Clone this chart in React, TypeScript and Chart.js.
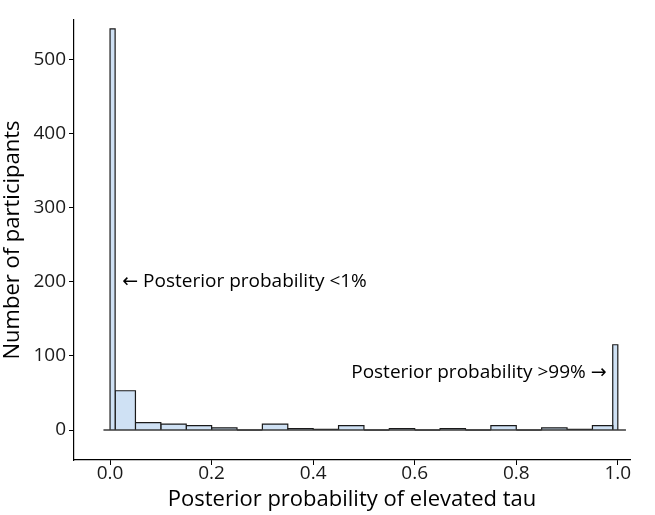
import React, { useEffect, useRef } from "react";
import { Chart, registerables } from "chart.js";

Chart.register(...registerables);

const binEdges = [0, 0.01, 0.05, 0.1, 0.15, 0.2, 0.25, 0.3, 0.35, 0.4, 0.45, 0.5, 0.55, 0.6, 0.65, 0.7, 0.75, 0.8, 0.85, 0.9, 0.95, 0.99, 1.0];
const counts = [541, 53, 10, 8, 6, 3, 0, 8, 2, 1, 6, 0, 2, 0, 2, 0, 6, 0, 3, 1, 6, 115];
const xTicks = [0, 0.2, 0.4, 0.6, 0.8, 1.0];
const yTicks = [0, 100, 200, 300, 400, 500];
const baselineRange = [-0.013, 1.016];
const annotations = [
  { text: "\u2190 Posterior probability <1%", x: 0.024, y: 200, align: "left" },
  { text: "Posterior probability >99% \u2192", x: 0.978, y: 78, align: "right" },
];

const FONT = "'Open Sans', 'Noto Sans', sans-serif";
const ANNOT_FONT = "'Open Sans', 'DejaVu Sans', sans-serif";

export default function App() {
  const ref = useRef<HTMLCanvasElement | null>(null);
  useEffect(() => {
    document.body.style.margin = "0";
    const ctx = ref.current!.getContext("2d")!;
    const barSets = counts.map((c, i) => ({
      type: "line" as const,
      data: [
        { x: binEdges[i], y: 0 },
        { x: binEdges[i], y: c },
        { x: binEdges[i + 1], y: c },
        { x: binEdges[i + 1], y: 0 },
      ],
      borderColor: "#1a1a1a",
      borderWidth: 1.2,
      backgroundColor: "#cfe1f4",
      fill: "origin",
      pointRadius: 0,
      tension: 0,
    }));
    const baseline = {
      type: "line" as const,
      data: [
        { x: baselineRange[0], y: 0 },
        { x: baselineRange[1], y: 0 },
      ],
      borderColor: "#3a3a3a",
      borderWidth: 1.6,
      fill: false,
      pointRadius: 0,
    };
    const annotPlugin = {
      id: "annot",
      afterDatasetsDraw(chart: any) {
        const c = chart.ctx;
        const xs = chart.scales.x;
        const ys = chart.scales.y;
        c.save();
        c.font = `19px ${ANNOT_FONT}`;
        c.fillStyle = "#000";
        c.textBaseline = "middle";
        annotations.forEach((a) => {
          c.textAlign = a.align;
          c.fillText(a.text, xs.getPixelForValue(a.x), ys.getPixelForValue(a.y));
        });
        c.restore();
      },
    };
    const chart = new Chart(ctx, {
      type: "line",
      data: { datasets: [baseline, ...barSets] as any },
      options: {
        animation: false,
        responsive: false,
        maintainAspectRatio: false,
        layout: { padding: { top: 20, right: 25, left: 0, bottom: 0 } },
        plugins: { legend: { display: false }, tooltip: { enabled: false } },
        scales: {
          x: {
            type: "linear",
            min: -0.071,
            max: 1.024,
            afterBuildTicks: (s: any) => {
              s.ticks = xTicks.map((v) => ({ value: v }));
            },
            afterFit: (s: any) => {
              s.height = 55;
            },
            grid: { drawOnChartArea: false, tickLength: 5, color: "#000", tickColor: "#000" },
            border: { color: "#000", width: 1.2 },
            ticks: {
              color: "#1a1a1a",
              font: { family: FONT, size: 19 },
              padding: -3,
              maxRotation: 0,
              callback: (v: any) => Number(v).toFixed(1),
            },
            title: {
              display: true,
              text: "Posterior probability of elevated tau",
              color: "#000",
              font: { family: FONT, size: 22 },
              padding: { top: 0, bottom: 2 },
            },
          },
          y: {
            type: "linear",
            min: -40.4,
            max: 553,
            afterBuildTicks: (s: any) => {
              s.ticks = yTicks.map((v) => ({ value: v }));
            },
            afterFit: (s: any) => {
              s.width = 74;
            },
            grid: { drawOnChartArea: false, tickLength: 5, color: "#000", tickColor: "#000" },
            border: { color: "#000", width: 1.2 },
            ticks: {
              color: "#1a1a1a",
              font: { family: FONT, size: 19 },
              padding: 3,
            },
            title: {
              display: true,
              text: "Number of participants",
              color: "#000",
              font: { family: FONT, size: 22 },
              padding: { top: 0, bottom: 0 },
            },
          },
        },
      },
      plugins: [annotPlugin],
    });
    return () => chart.destroy();
  }, []);
  return (
    <div style={{ position: "absolute", left: 0, top: 0, width: 655, height: 515, background: "#fff" }}>
      <canvas ref={ref} width={655} height={515} style={{ width: 655, height: 515 }} />
    </div>
  );
}
